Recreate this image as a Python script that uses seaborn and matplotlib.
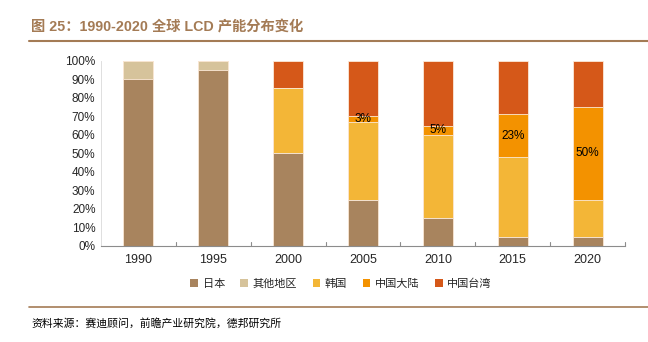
import matplotlib
matplotlib.use("Agg")
import matplotlib.pyplot as plt
from matplotlib.patches import Patch
from matplotlib.lines import Line2D
import seaborn as sns
import numpy as np
import pandas as pd

years = ["1990", "1995", "2000", "2005", "2010", "2015", "2020"]
japan = [90, 95, 50, 25, 15, 5, 5]
other = [10, 5, 0, 0, 0, 0, 0]
korea = [0, 0, 35, 42, 45, 43, 20]
china = [0, 0, 0, 3, 5, 23, 50]
taiwan = [0, 0, 15, 30, 35, 29, 25]
series_names = ["日本", "其他地区", "韩国", "中国大陆", "中国台湾"]
colors = ["#A8845E", "#D6C39B", "#F3B637", "#F39200", "#D55819"]

sns.set_theme(style="white")
plt.rcParams["font.family"] = ["Liberation Sans", "Noto Sans CJK SC", "DejaVu Sans"]

fig = plt.figure(figsize=(6.48, 3.42), dpi=100)
ax = fig.add_axes([101/648, 1-246/342, 524/648, (246-60.7)/342])

series = [japan, other, korea, china, taiwan]
cum = np.cumsum(np.array(series, dtype=float), axis=0)
df = pd.DataFrame({"year": years})
for i, n in enumerate(series_names):
    df[n] = cum[i]

for i in range(len(series) - 1, -1, -1):
    sns.barplot(data=df, x="year", y=series_names[i], color=colors[i], saturation=1,
                width=0.4, edgecolor="#FBE9D8", linewidth=0.6, ax=ax, zorder=2)

# labels for 中国大陆
for j, v in enumerate(china):
    if v > 0:
        mid = cum[2][j] + v / 2
        ax.text(j, mid, f"{v}%", ha="center", va="center", fontsize=8.5, color="black", zorder=5)

ax.set_ylim(0, 100)
ax.set_xlim(-0.5, 6.5)
ax.set_yticks(np.arange(0, 101, 10))
ax.set_yticklabels([f"{t}%" for t in range(0, 101, 10)], fontsize=8.5)
ax.set_xticks(range(len(years)))
ax.set_xticklabels(years, fontsize=9)
ax.set_xlabel("")
ax.set_ylabel("")
ax.tick_params(axis="both", length=0, pad=6)
ax.tick_params(axis="y", pad=4)
for s in ["top", "right"]:
    ax.spines[s].set_visible(False)
ax.spines["left"].set_color("#D9D9D9")
ax.spines["left"].set_linewidth(0.6)
ax.spines["bottom"].set_color("#8C8C8C")
ax.spines["bottom"].set_linewidth(0.8)
# category separator ticks on x axis
for k in range(1, len(years)):
    ax.plot([k - 0.5, k - 0.5], [0, 2], color="#8C8C8C", lw=0.8, clip_on=False, zorder=3)
ax.plot([6.5, 6.5], [0, 2], color="#8C8C8C", lw=0.8, clip_on=False, zorder=3)

handles = [Patch(facecolor=c, edgecolor="none", label=n) for c, n in zip(colors, series_names)]
fig.legend(handles=handles, loc="center", bbox_to_anchor=(341/648, 1-284/342), ncol=5,
           frameon=False, handlelength=0.7, handleheight=0.7, handletextpad=0.4,
           columnspacing=1.4, prop={"family": ["Noto Sans CJK SC"], "size": 8})

title_color = "#A47B55"
fig.text(31/648, 1-27/342, "图 25：1990-2020 全球 LCD 产能分布变化", fontsize=10.3,
         fontweight="bold", color=title_color, ha="left", va="center",
         family=["Liberation Sans", "Noto Sans CJK SC"])
fig.add_artist(Line2D([29/648, 1.0], [1-41/342, 1-41/342], color=title_color, lw=1.5))
fig.add_artist(Line2D([29/648, 1.0], [1-307/342, 1-307/342], color=title_color, lw=1.2))
fig.text(31/648, 1-323/342, "资料来源：赛迪顾问，前瞻产业研究院，德邦研究所", fontsize=7.8,
         color="black", ha="left", va="center", family=["Noto Sans CJK SC"])

fig.savefig("out.png", dpi=100)
